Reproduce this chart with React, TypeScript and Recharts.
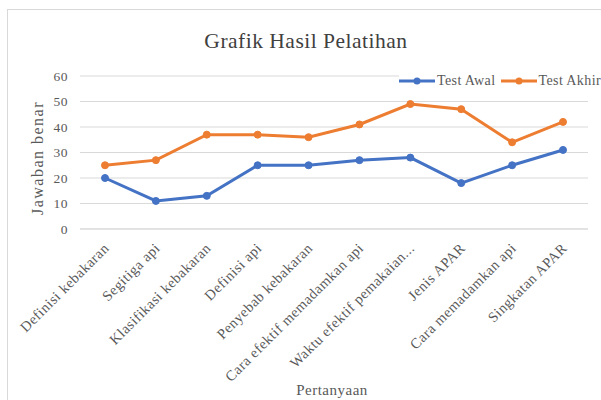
import React from 'react';
import { LineChart, Line, XAxis, YAxis, CartesianGrid } from 'recharts';

const categories = [
  'Definisi kebakaran',
  'Segitiga api',
  'Klasifikasi kebakaran',
  'Definisi api',
  'Penyebab kebakaran',
  'Cara efektif memadamkan api',
  'Waktu efektif pemakaian...',
  'Jenis APAR',
  'Cara memadamkan api',
  'Singkatan APAR',
];
const testAwal = [20, 11, 13, 25, 25, 27, 28, 18, 25, 31];
const testAkhir = [25, 27, 37, 37, 36, 41, 49, 47, 34, 42];
const yTicks = [0, 10, 20, 30, 40, 50, 60];
const seriesNames = ['Test Awal', 'Test Akhir'];
const titleText = 'Grafik Hasil Pelatihan';
const xTitle = 'Pertanyaan';
const yTitle = 'Jawaban benar';

const BLUE = '#4472C4';
const ORANGE = '#ED7D31';
const FONT = '"Liberation Serif", "Times New Roman", serif';
const TEXT = '#595959';

const data = categories.map((c, i) => ({ name: c, awal: testAwal[i], akhir: testAkhir[i] }));

const XTick = (props: any) => {
  const { x, y, payload } = props;
  const ax = x + 5;
  const ay = y + 12;
  return (
    <text
      x={ax}
      y={ay}
      transform={`rotate(-45, ${ax}, ${ay})`}
      textAnchor="end"
      fill={TEXT}
      fontSize={14.5}
      letterSpacing={0.5}
      fontFamily={FONT}
    >
      {payload.value}
    </text>
  );
};

const LegendContent = () => (
  <div style={{ display: 'flex', alignItems: 'center', fontFamily: FONT, fontSize: 14, letterSpacing: 0.4, color: TEXT, whiteSpace: 'nowrap', background: '#fff' }}>
    {[BLUE, ORANGE].map((c, i) => (
      <div key={i} style={{ display: 'flex', alignItems: 'center', marginRight: 5 }}>
        <svg width={36} height={10} style={{ marginRight: 2 }}>
          <line x1={0} y1={5} x2={36} y2={5} stroke={c} strokeWidth={3} />
          <circle cx={18} cy={5} r={3.5} fill={c} />
        </svg>
        <span>{seriesNames[i]}</span>
      </div>
    ))}
  </div>
);

export default function App() {
  return (
    <div style={{ position: 'absolute', left: 0, top: 0, width: 601, height: 400, overflow: 'hidden', background: '#fff' }}>
      <div style={{ position: 'absolute', left: 7, top: 9, width: 800, height: 600, border: '1px solid #d9d9d9' }} />
      <div style={{ position: 'absolute', left: 0, top: 29, width: 612, textAlign: 'center', fontFamily: FONT, fontSize: 21.5, letterSpacing: 0.5, color: '#404040' }}>
        {titleText}
      </div>
      <div style={{ position: 'absolute', left: 0, top: 0 }}>
        <LineChart width={601} height={400} data={data} margin={{ top: 76, right: 13, bottom: 0, left: 0 }}>
          <CartesianGrid vertical={false} stroke="#d9d9d9" />
          <XAxis
            dataKey="name"
            interval={0}
            tickLine={false}
            axisLine={{ stroke: '#d9d9d9' }}
            height={171}
            padding={{ left: 25, right: 25 }}
            tick={<XTick />}
            label={{
              content: () => (
                <text x={332} y={395} textAnchor="middle" fill={TEXT} fontSize={15} letterSpacing={0.5} fontFamily={FONT}>
                  {xTitle}
                </text>
              ),
            }}
          />
          <YAxis
            width={80}
            domain={[0, 60]}
            ticks={yTicks}
            axisLine={false}
            tickLine={false}
            tickMargin={6}
            tick={{ fill: TEXT, fontSize: 13.5, fontFamily: FONT, letterSpacing: 0.5 }}
            label={{
              content: () => (
                <text
                  x={43}
                  y={158}
                  transform="rotate(-90, 43, 158)"
                  textAnchor="middle"
                  fill={TEXT}
                  fontSize={16}
                  letterSpacing={1.5}
                  fontFamily={FONT}
                >
                  {yTitle}
                </text>
              ),
            }}
          />
          <Line
            type="linear"
            dataKey="awal"
            name={seriesNames[0]}
            stroke={BLUE}
            strokeWidth={3}
            dot={{ r: 3.5, fill: BLUE, stroke: BLUE, strokeWidth: 1 }}
            isAnimationActive={false}
          />
          <Line
            type="linear"
            dataKey="akhir"
            name={seriesNames[1]}
            stroke={ORANGE}
            strokeWidth={3}
            dot={{ r: 3.5, fill: ORANGE, stroke: ORANGE, strokeWidth: 1 }}
            isAnimationActive={false}
          />
        </LineChart>
      </div>
      <div style={{ position: 'absolute', left: 399, top: 73 }}>
        <LegendContent />
      </div>
    </div>
  );
}
